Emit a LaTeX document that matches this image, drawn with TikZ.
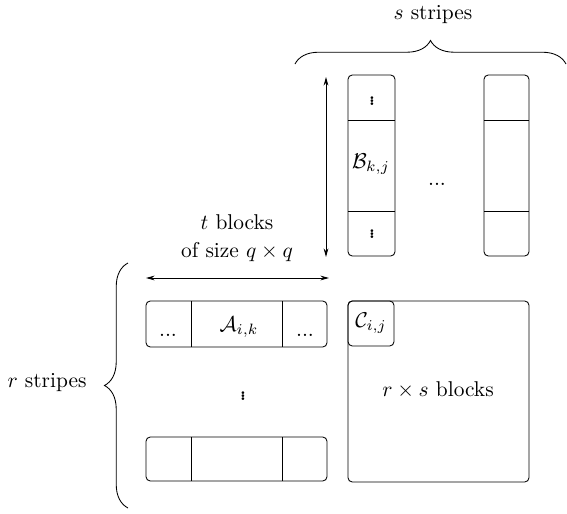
\documentclass[tikz,border=0pt]{standalone}
\usetikzlibrary{arrows.meta,decorations.pathreplacing}
\newcommand{\myvdot}{\hbox{\fontsize{8}{8}\selectfont\bfseries .}}
\newcommand{\myvdots}{\vbox{\baselineskip=1.3pt\lineskiplimit=-20pt\myvdot\myvdot\myvdot}}
\begin{document}
\begin{tikzpicture}[x=0.467pt,y=-0.467pt,
  cell/.style={draw,rounded corners=2pt},
  dbl/.style={{Stealth[length=4pt,width=2.2pt]}-{Stealth[length=4pt,width=2.2pt]}},
  lbl/.style={inner sep=0pt},
  vd/.style={inner sep=0pt},
  brc/.style={decorate,decoration={brace,amplitude=11pt}}]
\useasboundingbox (0,0) rectangle (567,514);
% B stripes
\draw[cell] (348,75) rectangle (395,256);
\draw (348,120) -- (395,120) (348,211) -- (395,211);
\draw[cell] (484,75) rectangle (529,256);
\draw (484,120) -- (529,120) (484,211) -- (529,211);
\node[vd] (bv1) at (372,101) {\myvdots};
\node[vd] (bv2) at (372,234) {\myvdots};
\node[lbl] (bkj) at (371,164) {$\mathcal{B}_{k,j}$};
\node[lbl,anchor=base] (bdots) at (437,185) {...};
% A stripes
\draw[cell] (146,301) rectangle (327,347);
\draw (191,301) -- (191,347) (282,301) -- (282,347);
\draw[cell] (146,437) rectangle (327,481);
\draw (191,437) -- (191,481) (282,437) -- (282,481);
\node[lbl,anchor=base] (ad1) at (168,336) {...};
\node[lbl,anchor=base] (ad2) at (305,336) {...};
\node[lbl] (aik) at (239,327) {$\mathcal{A}_{i,k}$};
\node[vd] (av) at (243,396) {\myvdots};
% C
\draw[cell] (348,301) rectangle (529,482);
\draw[cell] (348,301) rectangle (394,346);
\node[lbl] (cij) at (371,323) {$\mathcal{C}_{i,j}$};
\node[lbl] (rs) at (438,390) {$r\times s$ blocks};
% arrows
\coordinate (vt) at (326,77);
\coordinate (vb) at (326,257);
\draw[dbl] (vt) -- (vb);
\coordinate (hl) at (146,278);
\coordinate (hr) at (329,278);
\draw[dbl] (hl) -- (hr);
\node[lbl] (tb) at (237,222) {$t$ blocks};
\node[lbl] (os) at (237,252) {of size $q\times q$};
% braces
\coordinate (b1) at (295,64);
\coordinate (b2) at (566,64);
\draw[brc] (b1) -- (b2);
\node[lbl] (ss) at (433,15) {$s$ stripes};
\coordinate (l1) at (128,508);
\coordinate (l2) at (128,263);
\draw[brc] (l1) -- (l2);
\node[lbl] (rst) at (47,383) {$r$ stripes};
\end{tikzpicture}
\end{document}
